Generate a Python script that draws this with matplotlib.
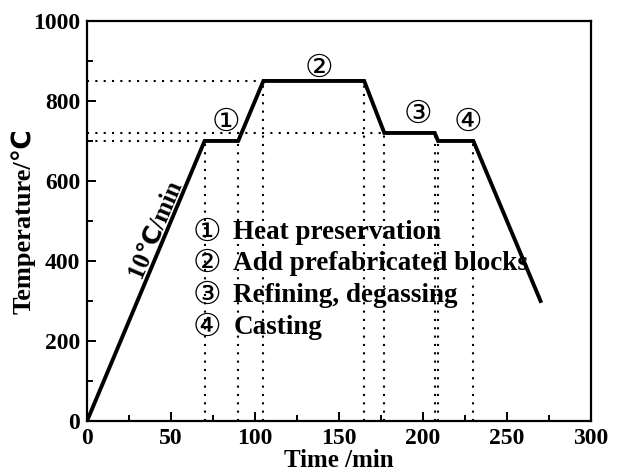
import matplotlib.pyplot as plt

# heating schedule: time (min) vs furnace temperature (C)
time_pts = [0, 70, 90, 105, 165, 177, 207, 209, 230, 270]
temp_pts = [0, 700, 700, 850, 850, 720, 720, 700, 700, 300]

# guide lines
hline_temps = [850, 720, 700]
hline_ends = [105, 177, 70]
vline_times = [70, 90, 105, 165, 177, 207, 209, 230]
vline_tops = [700, 700, 850, 850, 720, 720, 700, 700]

stage_marks = ['①', '②', '③', '④']
stage_x = [83, 138, 197, 227]
stage_y = [747, 882, 767, 747]
stage_names = ['Heat preservation', 'Add prefabricated blocks',
               'Refining, degassing', 'Casting']

plt.rcParams['font.family'] = ['Liberation Serif', 'DejaVu Sans']
plt.rcParams['font.weight'] = 'bold'

fig = plt.figure(figsize=(6.26, 4.76), dpi=100)
ax = fig.add_axes([0.139, 0.1155, 0.805, 0.8405])

for t, x1 in zip(hline_temps, hline_ends):
    ax.plot([0, x1], [t, t], ls=(0, (1, 3)), color='black', lw=1.5)
for x, t in zip(vline_times, vline_tops):
    ax.plot([x, x], [0, t], ls=(0, (1, 3)), color='black', lw=1.5)

ax.plot(time_pts, temp_pts, color='black', lw=2.8, solid_joinstyle='miter')

circ_font = ['DejaVu Sans']
for m, x, y in zip(stage_marks, stage_x, stage_y):
    ax.text(x, y, m, fontsize=23, ha='center', va='center',
            family=circ_font, fontweight='normal')

for i, (m, name) in enumerate(zip(stage_marks, stage_names)):
    y = 0.472 - i * 0.079
    ax.text(0.238, y, m, transform=ax.transAxes, fontsize=23, ha='center',
            family=circ_font, fontweight='normal', va='center')
    ax.text(0.290, y, name, transform=ax.transAxes, fontsize=19.5,
            fontweight='bold', va='center')

ax.text(40.5, 482, '10℃/min', fontsize=18, fontweight='bold', rotation=67,
        ha='center', va='center', rotation_mode='anchor')

ax.set_xlim(0, 300)
ax.set_ylim(0, 1000)
ax.set_xticks(range(0, 301, 50))
ax.set_xticks(range(0, 301, 25), minor=True)
ax.set_yticks(range(0, 1001, 200))
ax.set_yticks(range(0, 1001, 100), minor=True)
ax.tick_params(which='both', direction='in', width=1.4)
ax.tick_params(which='major', length=6.5, labelsize=17, pad=5)
ax.tick_params(which='minor', length=4)
for lab in ax.get_xticklabels() + ax.get_yticklabels():
    lab.set_fontweight('bold')
for s in ax.spines.values():
    s.set_linewidth(1.6)

ax.set_xlabel('Time /min', fontsize=18, fontweight='bold', labelpad=0)
ax.set_ylabel('Temperature/℃', fontsize=19, fontweight='bold', labelpad=-2)

fig.savefig('out.png', dpi=100)
